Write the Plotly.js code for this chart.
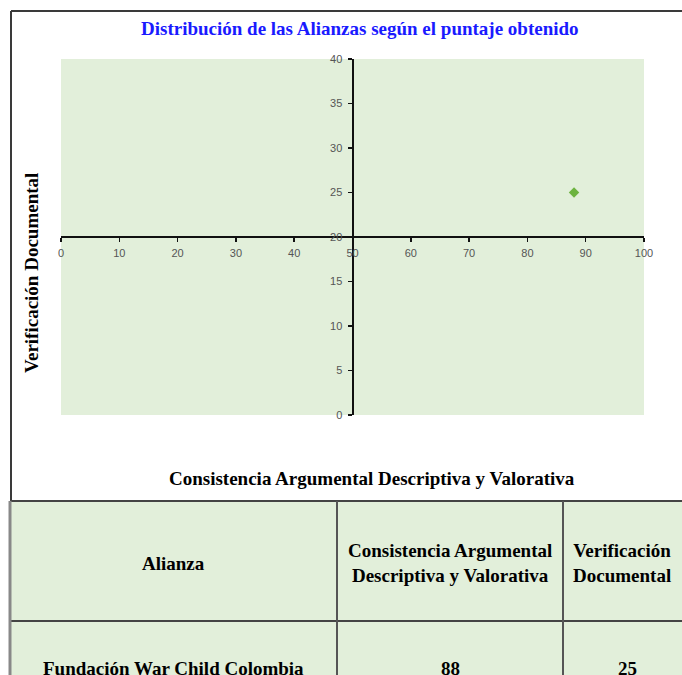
<!DOCTYPE html>
<html>
<head>
<meta charset="utf-8">
<script src="https://cdn.plot.ly/plotly-3.0.1.min.js"></script>
<style>html,body{margin:0;padding:0;background:#fff;}#chart{width:682px;height:675px;}</style>
</head>
<body>
<div id="chart"></div>
<script>
// ---- data ----
const alianzas = ['Fundación War Child Colombia'];
const consistencia = [88];
const verificacion = [25];
const tableHeaders = ['Alianza', 'Consistencia Argumental<br>Descriptiva y Valorativa', 'Verificación<br>Documental'];
const chartTitle = 'Distribución de las Alianzas según el puntaje obtenido';
const xTitle = 'Consistencia Argumental Descriptiva y Valorativa';
const yTitle = 'Verificación Documental';

// ---- layout helpers (pixel -> paper) ----
const W = 682, H = 675;
const M = {l: 61, r: 38, t: 59, b: 260};
const PW = W - M.l - M.r, PH = H - M.t - M.b;
const px = x => (x - M.l) / PW;
const py = y => (H - M.b - y) / PH;

const serif = 'Liberation Serif, Times New Roman, serif';
const green = '#e2efda';
const lineC = '#3a3a3a';

const trace = {
  type: 'scatter', mode: 'markers',
  x: consistencia, y: verificacion, text: alianzas,
  marker: {symbol: 'diamond', size: 8, color: '#6db33f'},
  hoverinfo: 'text+x+y', cliponaxis: false
};

// table geometry
const colEdges = [10, 337, 563, 700];
const rowEdges = [501, 621, 740];
const shapes = [];
const L = (x0, y0, x1, y1, c, w) => shapes.push({type: 'line', xref: 'paper', yref: 'paper',
  x0: px(x0), y0: py(y0), x1: px(x1), y1: py(y1), line: {color: c, width: w}});
shapes.push({type: 'rect', xref: 'paper', yref: 'paper', x0: px(10), x1: px(700), y0: py(501), y1: py(740),
  fillcolor: green, line: {width: 0}, layer: 'below'});
// outer chart frame
L(11, 11, 700, 11, lineC, 2);
L(11, 11, 11, 501, lineC, 2);
// table grid
rowEdges.slice(0, 2).forEach(r => L(10, r, 700, r, '#444', 2));
L(10, 501, 10, 740, '#888', 3);
colEdges.slice(1, 3).forEach(c => L(c, 501, c, 740, '#555', 2));

const annotations = [];
const A = (text, x, y, size, extra) => annotations.push(Object.assign({
  text, xref: 'paper', yref: 'paper', x: px(x), y: py(y), xanchor: 'center', yanchor: 'middle',
  showarrow: false, font: {family: serif, size, color: '#000'}
}, extra || {}));

A('<b>' + chartTitle + '</b>', 360, 28, 19, {font: {family: serif, size: 19, color: '#1a1aff'}});
A('<b>' + yTitle + '</b>', 31, 273, 19, {textangle: -90});
A('<b>' + xTitle + '</b>', 372, 478, 19);
// table header
const colCenters = [173, 450, 622];
tableHeaders.forEach((h, i) => A('<b>' + h + '</b>', colCenters[i], 563, 19));
// table rows
alianzas.forEach((a, i) => {
  const yc = 668 + i * 120;
  A('<b>' + a + '</b>', colCenters[0], yc, 19);
  A('<b>' + consistencia[i] + '</b>', colCenters[1], yc, 19);
  A('<b>' + verificacion[i] + '</b>', colCenters[2] + 5, yc, 19);
});

const tickFont = {family: 'Liberation Sans, Arial, sans-serif', size: 11, color: '#555'};
const layout = {
  width: W, height: H,
  margin: M,
  paper_bgcolor: '#fff', plot_bgcolor: green,
  showlegend: false,
  xaxis: {range: [0, 100], dtick: 10, tick0: 0, anchor: 'free', position: 0.5,
    showline: true, linecolor: '#111', linewidth: 2, ticks: 'outside', ticklen: 4, tickwidth: 1.5, tickcolor: '#111',
    ticklabelstandoff: 2,
    showgrid: false, zeroline: false, tickfont: tickFont, fixedrange: true},
  yaxis: {range: [0, 40], dtick: 5, tick0: 0, anchor: 'free', position: 0.5,
    showline: true, linecolor: '#111', linewidth: 2, ticks: 'outside', ticklen: 4, tickwidth: 1.5, tickcolor: '#111',
    ticklabelstandoff: 3,
    showgrid: false, zeroline: false, tickfont: tickFont, fixedrange: true},
  shapes, annotations
};
Plotly.newPlot('chart', [trace], layout, {displayModeBar: false, staticPlot: true});
</script>
</body>
</html>
